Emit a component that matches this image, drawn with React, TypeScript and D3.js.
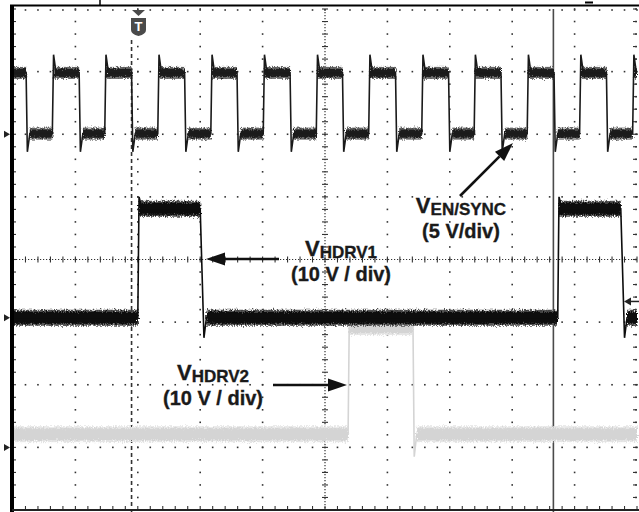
import React from 'react';
import * as d3 from 'd3';

const W = 639;
const H = 512;

// Time in divisions (0..10), voltage in screen divisions from centre (-4..4)
const ch1FallTimes = [0.21, 1.06, 1.9, 2.75, 3.59, 4.44, 5.28, 6.13, 6.98, 7.82, 8.67, 9.51];
const ch1RiseTimes = [0.63, 1.47, 2.32, 3.17, 4.01, 4.86, 5.7, 6.55, 7.39, 8.24, 9.08, 9.93];
const ch1Levels = [2.01, 2.98, 3.27, 1.72]; // low, high, overshoot, undershoot

const ch2RiseTimes = [2.0, 8.73];
const ch2FallTimes = [3.0, 9.74];
const ch2Levels = [-0.93, 0.81, 1.0, -1.25];

const ch3RiseTimes = [5.37];
const ch3FallTimes = [6.41];
const ch3Levels = [-2.79, -1.08, -0.89, -3.15];

const groundMarkers = [2.0, -0.93, -3.0];
const triggerTime = 1.9;
const cursorTime = 8.66;
const crossMarks = [[1.8, -2.78], [8.66, -2.78]];

const x = d3.scaleLinear().domain([0, 10]).range([13, 637]);
const y = d3.scaleLinear().domain([-4, 4]).range([510, 9]);

type Pt = [number, number];

function buildWave(rises: number[], falls: number[], lv: number[], rd: number[], fd: number[]) {
  const edges = [
    ...rises.map((t) => ({ t, up: true })),
    ...falls.map((t) => ({ t, up: false })),
  ].sort((a, b) => a.t - b.t);
  const [low, high, over, under] = lv;
  let level = edges.length && edges[0].up ? low : high;
  const pts: Pt[] = [[0, level]];
  const plateaus: [number, number, number][] = [];
  let segStart = 0;
  for (const e of edges) {
    if (e.up) {
      plateaus.push([segStart, e.t, low]);
      pts.push([e.t, low], [e.t + rd[0], over], [e.t + rd[1], high]);
      segStart = e.t + rd[0];
      level = high;
    } else {
      plateaus.push([segStart, e.t, high]);
      pts.push([e.t, high], [e.t + fd[0], under], [e.t + fd[1], low]);
      segStart = e.t + fd[1];
      level = low;
    }
  }
  plateaus.push([segStart, 10, level]);
  pts.push([10, level]);
  return { pts, plateaus };
}

const line = d3
  .line<Pt>()
  .x((d) => x(d[0]))
  .y((d) => y(d[1]));

function Trace({ wave, band, color, halo, id }: any) {
  return (
    <g>
      <g filter={`url(#${id})`}>
        {wave.plateaus.map((p: any, i: number) => (
          <rect
            key={'h' + i}
            x={x(p[0])}
            y={y(p[2]) - band / 2 - 2}
            width={Math.max(0, x(p[1]) - x(p[0]))}
            height={band + 4}
            fill={halo}
          />
        ))}
        {wave.plateaus.map((p: any, i: number) => (
          <rect
            key={'c' + i}
            x={x(p[0])}
            y={y(p[2]) - band / 2}
            width={Math.max(0, x(p[1]) - x(p[0]))}
            height={band}
            fill={color}
          />
        ))}
      </g>
      <path d={line(wave.pts) || ''} fill="none" stroke={color} strokeWidth={1.6} />
    </g>
  );
}

function Arrow({ x1, y1, x2, y2 }: any) {
  const ang = Math.atan2(y2 - y1, x2 - x1);
  const L = 19;
  const Wd = 6.5;
  const bx = x2 - L * Math.cos(ang);
  const by = y2 - L * Math.sin(ang);
  const px = -Math.sin(ang) * Wd;
  const py = Math.cos(ang) * Wd;
  return (
    <g>
      <line x1={x1} y1={y1} x2={bx} y2={by} stroke="#111" strokeWidth={2.6} />
      <path d={`M${x2},${y2}L${bx + px},${by + py}L${bx - px},${by - py}Z`} fill="#111" />
    </g>
  );
}

function Label({ cx, y1, y2, sub, line2 }: any) {
  return (
    <text
      textAnchor="middle"
      fontFamily='"Liberation Sans", Arial, Helvetica, sans-serif'
      fontWeight={700}
      fill="#1a1a1a"
      stroke="#1a1a1a"
      strokeWidth={0.35}
    >
      <tspan x={cx} y={y1} fontSize={22}>V</tspan>
      <tspan fontSize={17} dy={2}>{sub}</tspan>
      <tspan x={cx} y={y2} fontSize={20}>{line2}</tspan>
    </text>
  );
}

export default function App() {
  const ch1 = buildWave(ch1RiseTimes, ch1FallTimes, ch1Levels, [0.02, 0.06], [0.02, 0.06]);
  const ch2 = buildWave(ch2RiseTimes, ch2FallTimes, ch2Levels, [0.02, 0.07], [0.06, 0.1]);
  const ch3 = buildWave(ch3RiseTimes, ch3FallTimes, ch3Levels, [0.02, 0.06], [0.02, 0.06]);

  const minorT = d3.range(0, 10.001, 0.2);
  const minorV = d3.range(-4, 4.001, 0.2);
  const majorCols = d3.range(1, 11).filter((k) => k !== 5);
  const majorRows = d3.range(-3, 4).filter((k) => k !== 0);

  const dot = (cx: number, cy: number, key: string) => (
    <rect key={key} x={cx - 0.8} y={cy - 0.8} width={1.6} height={1.6} fill="#333" />
  );

  return (
    <svg width={W} height={H} style={{ position: 'absolute', left: 0, top: 0, background: '#fff' }}>
      <defs>
        <filter id="fz1" x="-2%" y="-20%" width="104%" height="140%">
          <feTurbulence type="fractalNoise" baseFrequency="0.9 0.6" numOctaves={2} seed={3} result="n" />
          <feDisplacementMap in="SourceGraphic" in2="n" scale={5} xChannelSelector="R" yChannelSelector="G" />
        </filter>
        <filter id="fz2" x="-2%" y="-20%" width="104%" height="140%">
          <feTurbulence type="fractalNoise" baseFrequency="0.9 0.6" numOctaves={2} seed={7} result="n" />
          <feDisplacementMap in="SourceGraphic" in2="n" scale={6} xChannelSelector="R" yChannelSelector="G" />
        </filter>
        <filter id="fz3" x="-2%" y="-20%" width="104%" height="140%">
          <feTurbulence type="fractalNoise" baseFrequency="0.9 0.6" numOctaves={2} seed={11} result="n" />
          <feDisplacementMap in="SourceGraphic" in2="n" scale={6} xChannelSelector="R" yChannelSelector="G" />
        </filter>
      </defs>
      <rect width={W} height={H} fill="#fff" />

      {/* grid: major columns */}
      {majorCols.map((k) => minorV.map((v, i) => dot(x(k) - (k === 10 ? 1 : 0), y(v), `c${k}-${i}`)))}
      {/* grid: major rows */}
      {majorRows.map((k) => minorT.map((t, i) => dot(x(t), y(k), `r${k}-${i}`)))}
      {/* centre axes */}
      <line x1={x(0)} x2={x(10)} y1={y(0)} y2={y(0)} stroke="#333" strokeWidth={1.2} strokeDasharray="1.2 1.8" />
      <line x1={x(5)} x2={x(5)} y1={y(4)} y2={y(-4)} stroke="#333" strokeWidth={1.2} strokeDasharray="1.2 1.8" />
      {minorT.map((t, i) => (
        <line key={'ht' + i} x1={x(t)} x2={x(t)} y1={y(0) - 3} y2={y(0) + 3} stroke="#333" strokeWidth={1.1} />
      ))}
      {minorV.map((v, i) => (
        <line key={'vt' + i} x1={x(5) - 3} x2={x(5) + 3} y1={y(v)} y2={y(v)} stroke="#333" strokeWidth={1.1} />
      ))}
      {/* border ticks */}
      {minorT.map((t, i) => dot(x(t), y(4) + 1, 'tt' + i))}
      {minorT.map((t, i) => (
        <line key={'bt' + i} x1={x(t)} x2={x(t)} y1={y(-4) - 4} y2={y(-4)} stroke="#333" strokeWidth={1.1} />
      ))}
      {minorV.map((v, i) => (
        <line key={'lt' + i} x1={x(0)} x2={x(0) + 3} y1={y(v)} y2={y(v)} stroke="#333" strokeWidth={1.1} />
      ))}
      {minorV.map((v, i) => (
        <line key={'rt' + i} x1={x(10) - 4} x2={x(10)} y1={y(v)} y2={y(v)} stroke="#333" strokeWidth={1.1} />
      ))}

      {/* trigger dashed line and cursor */}
      <line x1={x(triggerTime)} x2={x(triggerTime)} y1={40} y2={H} stroke="#333" strokeWidth={1.6} strokeDasharray="4 3" />
      <line x1={x(cursorTime)} x2={x(cursorTime)} y1={y(4)} y2={H} stroke="#4a4a4a" strokeWidth={1.6} />
      {crossMarks.map((c, i) => (
        <line key={'cm' + i} x1={x(c[0]) - 9} x2={x(c[0]) + 9} y1={y(c[1])} y2={y(c[1])} stroke="#555" strokeWidth={1.6} />
      ))}

      {/* traces */}
      <Trace wave={ch3} band={12} color="#d4d4d4" halo="#e6e6e6" id="fz3" />
      <Trace wave={ch2} band={12} color="#0d0d0d" halo="#555" id="fz2" />
      <Trace wave={ch1} band={8} color="#1a1a1a" halo="#666" id="fz1" />

      {/* frame */}
      <line x1={10} x2={W} y1={5.5} y2={5.5} stroke="#000" strokeWidth={2.2} />
      <line x1={12} x2={12} y1={5} y2={H} stroke="#000" strokeWidth={4} />
      <line x1={12} x2={W} y1={510} y2={510} stroke="#222" strokeWidth={1.8} />
      <line x1={100} x2={100} y1={0} y2={5} stroke="#000" strokeWidth={1.5} />
      <line x1={585} x2={593} y1={2.5} y2={2.5} stroke="#000" strokeWidth={2} />

      {/* trigger marker */}
      <g fill="#4a4a4a">
        <path d="M132,10 L145,10 L138.5,16 Z" />
        <path d="M131,18 L146,18 L146,30 Q146,34 138.5,36 Q131,34 131,30 Z" />
      </g>
      <text x={138.5} y={31} textAnchor="middle" fontFamily="Arial, sans-serif" fontWeight={700} fontSize={13} fill="#fff">
        T
      </text>

      {/* ground markers */}
      {groundMarkers.map((v, i) => (
        <path key={'gm' + i} d={`M4,${y(v) - 3.5} L10,${y(v)} L4,${y(v) + 3.5} Z`} fill="#222" />
      ))}
      {/* trigger level marker */}
      <path d={`M624,${y(-0.67)} L631,${y(-0.67) - 4} L631,${y(-0.67) + 4} Z`} fill="#222" />
      <line x1={630} x2={W} y1={y(-0.67)} y2={y(-0.67)} stroke="#222" strokeWidth={1.5} />

      {/* annotations */}
      <Arrow x1={460} y1={196} x2={513} y2={143} />
      <Arrow x1={279} y1={259} x2={206} y2={259} />
      <Arrow x1={273} y1={385} x2={347} y2={385} />
      <Label cx={461} y1={213} y2={238} sub="EN/SYNC" line2="(5 V/div)" />
      <Label cx={341} y1={256} y2={281} sub="HDRV1" line2="(10 V / div)" />
      <Label cx={213} y1={380} y2={405} sub="HDRV2" line2="(10 V / div)" />
    </svg>
  );
}
